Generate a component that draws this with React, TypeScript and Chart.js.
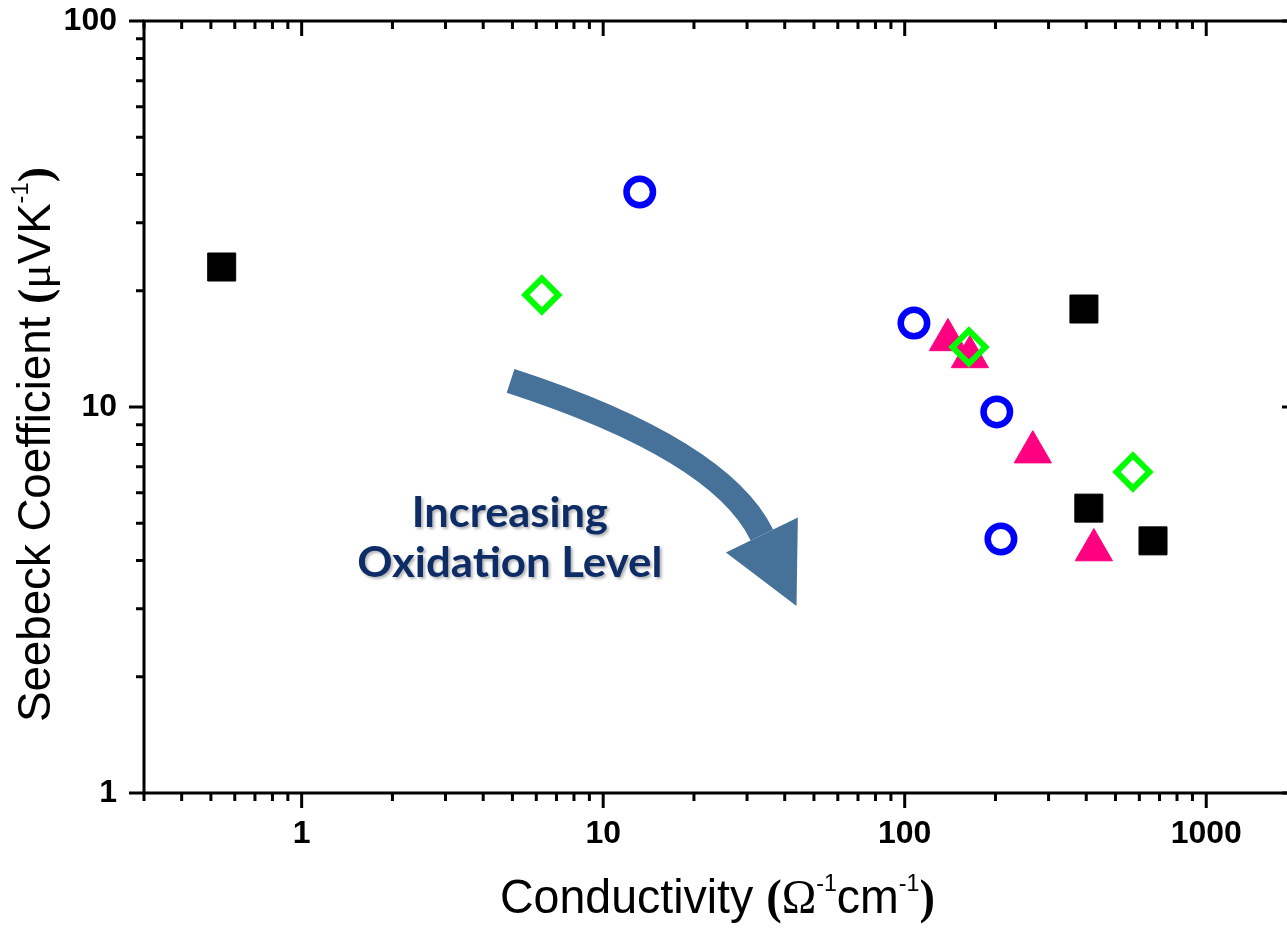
import React, { useEffect, useRef } from "react";
import { Chart, registerables } from "chart.js";

Chart.register(...registerables);

// ---- data: conductivity (S/cm) vs Seebeck coefficient (µV/K) ----
const squareX = [0.543, 393, 408, 666];
const squareY = [23.05, 17.94, 5.47, 4.5];

const circleX = [13.22, 107.3, 202, 208.5];
const circleY = [36.06, 16.5, 9.71, 4.55];

const triangleX = [139.1, 164.5, 266, 424];
const triangleY = [14.92, 13.48, 7.64, 4.26];

const diamondX = [6.26, 163.3, 571.5];
const diamondY = [19.51, 14.3, 6.79];

// ---- axes ----
const X_MIN = 0.3;
const X_MAX = 2000;
const Y_MIN = 1;
const Y_MAX = 100;
const xTickLabels = [1, 10, 100, 1000];
const yTickLabels = [1, 10, 100];

// ---- annotation (data space) ----
const arrowStart = { x: 4.93, y: 11.68 };
const arrowBend = { x: 24.4, y: 7.78 };
const arrowEnd = { x: 33.6, y: 4.66 };
const noteLines = ["Increasing", "Oxidation Level"];
const noteAnchor = { x: 4.9, y: [4.89, 3.63] };

const zip = (xs: number[], ys: number[]) => xs.map((x, i) => ({ x, y: ys[i] }));

const SANS = "'Liberation Sans', Arial, Helvetica, sans-serif";
const SERIF = "'Liberation Serif', 'Times New Roman', serif";

function logTicks(min: number, max: number) {
  const out: { v: number; major: boolean }[] = [];
  const e0 = Math.floor(Math.log10(min));
  const e1 = Math.ceil(Math.log10(max));
  for (let e = e0; e <= e1; e++) {
    for (let m = 1; m <= 9; m++) {
      const v = m * Math.pow(10, e);
      if (v >= min * (1 - 1e-9) && v <= max * (1 + 1e-9)) out.push({ v, major: m === 1 });
    }
  }
  return out;
}

type Seg = { text: string; font: string; dy?: number };

function drawRich(
  ctx: CanvasRenderingContext2D,
  segs: Seg[],
  ox: number,
  oy: number,
  length: number,
  vertical: boolean
) {
  ctx.save();
  ctx.translate(ox, oy);
  if (vertical) ctx.rotate(-Math.PI / 2);
  const widths = segs.map((s) => {
    ctx.font = s.font;
    return ctx.measureText(s.text).width;
  });
  const total = widths.reduce((a, b) => a + b, 0);
  ctx.scale(length / total, 1);
  ctx.fillStyle = "#000";
  ctx.textAlign = "left";
  ctx.textBaseline = "alphabetic";
  let x = -total / 2;
  segs.forEach((s, i) => {
    ctx.font = s.font;
    ctx.fillText(s.text, x, s.dy || 0);
    x += widths[i];
  });
  ctx.restore();
}

const framePlugin = {
  id: "frameAndNotes",
  afterDatasetsDraw(chart: any) {
    const { ctx, chartArea: a, scales } = chart;
    const xs = scales.x;
    const ys = scales.y;
    ctx.save();

    // axis box and tick marks
    ctx.strokeStyle = "#000";
    ctx.lineWidth = 3;
    ctx.lineCap = "butt";
    ctx.beginPath();
    ctx.rect(a.left, a.top, a.right - a.left, a.bottom - a.top);
    ctx.stroke();

    ctx.beginPath();
    logTicks(X_MIN, X_MAX).forEach(({ v, major }) => {
      const px = xs.getPixelForValue(v);
      const len = major ? 15 : 8;
      ctx.moveTo(px, a.bottom);
      ctx.lineTo(px, a.bottom + len);
      ctx.moveTo(px, a.top);
      ctx.lineTo(px, a.top + len);
    });
    logTicks(Y_MIN, Y_MAX).forEach(({ v, major }) => {
      const py = ys.getPixelForValue(v);
      const len = major ? 15 : 8;
      ctx.moveTo(a.left - len, py);
      ctx.lineTo(a.left, py);
      ctx.moveTo(a.right - len, py);
      ctx.lineTo(a.right, py);
    });
    ctx.stroke();

    // curved arrow
    const p0 = { x: xs.getPixelForValue(arrowStart.x), y: ys.getPixelForValue(arrowStart.y) };
    const pc = { x: xs.getPixelForValue(arrowBend.x), y: ys.getPixelForValue(arrowBend.y) };
    const p2 = { x: xs.getPixelForValue(arrowEnd.x), y: ys.getPixelForValue(arrowEnd.y) };
    const arrowColor = "#46729A";
    ctx.strokeStyle = arrowColor;
    ctx.fillStyle = arrowColor;
    ctx.lineWidth = 25;
    ctx.beginPath();
    ctx.moveTo(p0.x, p0.y);
    ctx.quadraticCurveTo(pc.x, pc.y, p2.x, p2.y);
    ctx.stroke();
    const dx = p2.x - pc.x;
    const dy = p2.y - pc.y;
    const dl = Math.hypot(dx, dy);
    const ux = dx / dl;
    const uy = dy / dl;
    const headLen = 79;
    const headHalf = 40;
    ctx.beginPath();
    ctx.moveTo(p2.x + uy * headHalf, p2.y - ux * headHalf);
    ctx.lineTo(p2.x + ux * headLen, p2.y + uy * headLen);
    ctx.lineTo(p2.x - uy * headHalf, p2.y + ux * headHalf);
    ctx.closePath();
    ctx.fill();

    // note text
    ctx.fillStyle = "#0E2C66";
    ctx.shadowColor = "rgba(0,0,0,0.30)";
    ctx.shadowOffsetX = 2;
    ctx.shadowOffsetY = 2;
    ctx.shadowBlur = 3;
    ctx.textAlign = "center";
    ctx.textBaseline = "alphabetic";
    const noteWidths = [196, 305];
    noteLines.forEach((line, i) => {
      const cx = xs.getPixelForValue(noteAnchor.x);
      const by = ys.getPixelForValue(noteAnchor.y[i]);
      ctx.font = "bold 42px Lato, 'Open Sans', sans-serif";
      const w = ctx.measureText(line).width;
      ctx.save();
      ctx.translate(cx, by);
      ctx.scale(noteWidths[i] / w, 1);
      ctx.fillText(line, 0, 0);
      ctx.restore();
    });
    ctx.restore();

    // axis titles
    const supFont = `24px ${SANS}`;
    drawRich(
      ctx,
      [
        { text: "Conductivity ", font: `48px ${SANS}` },
        { text: "(", font: `bold 48px ${SERIF}` },
        { text: "Ω", font: `48px ${SERIF}` },
        { text: "-1", font: supFont, dy: -22 },
        { text: "cm", font: `48px ${SANS}` },
        { text: "-1", font: supFont, dy: -22 },
        { text: ")", font: `bold 48px ${SERIF}` },
      ],
      a.left + 573.5,
      a.bottom + 120,
      435,
      false
    );
    drawRich(
      ctx,
      [
        { text: "Seebeck Coefficient ", font: `46px ${SANS}` },
        { text: "(", font: `bold 46px ${SERIF}` },
        { text: "μ", font: `46px ${SERIF}` },
        { text: "VK", font: `46px ${SANS}` },
        { text: "-1", font: supFont, dy: -22 },
        { text: ")", font: `bold 46px ${SERIF}` },
      ],
      50,
      a.top + 423.5,
      555,
      true
    );
  },
};

export default function App() {
  const canvasRef = useRef<HTMLCanvasElement | null>(null);

  useEffect(() => {
    const canvas = canvasRef.current;
    if (!canvas) return;
    const tickFont = { family: SANS, size: 32, weight: "bold" as const };
    const chart = new Chart(canvas, {
      type: "scatter",
      data: {
        datasets: [
          {
            label: "diamond",
            data: zip(diamondX, diamondY),
            pointStyle: "rectRot",
            pointRadius: 16.5,
            pointBorderWidth: 6,
            borderColor: "#00FF00",
            backgroundColor: "rgba(0,0,0,0)",
            order: 0,
          },
          {
            label: "triangle",
            data: zip(triangleX, triangleY),
            pointStyle: "triangle",
            pointRadius: 21.5,
            pointBorderWidth: 1,
            borderColor: "#FF0080",
            backgroundColor: "#FF0080",
            order: 1,
          },
          {
            label: "circle",
            data: zip(circleX, circleY),
            pointStyle: "circle",
            pointRadius: 13.25,
            pointBorderWidth: 6.5,
            borderColor: "#0000FF",
            backgroundColor: "rgba(0,0,0,0)",
            order: 2,
          },
          {
            label: "square",
            data: zip(squareX, squareY),
            pointStyle: "rect",
            pointRadius: 19.8,
            pointBorderWidth: 1,
            borderColor: "#000000",
            backgroundColor: "#000000",
            order: 3,
          },
        ],
      },
      options: {
        animation: false,
        responsive: false,
        devicePixelRatio: 1,
        layout: { autoPadding: false, padding: { left: 0, top: 21, right: 13, bottom: 0 } },
        plugins: {
          legend: { display: false },
          tooltip: { enabled: false },
        },
        scales: {
          x: {
            type: "logarithmic",
            position: "bottom",
            min: X_MIN,
            max: X_MAX,
            // tick marks are drawn by the frame plugin; the library's own
            // (invisible) ticks only set the label offset
            grid: {
              display: true,
              drawOnChartArea: false,
              drawTicks: true,
              tickLength: 22,
              tickColor: "rgba(0,0,0,0)",
            },
            border: { display: false },
            afterBuildTicks: (s: any) => {
              s.ticks = xTickLabels.map((v) => ({ value: v }));
            },
            afterFit: (s: any) => {
              s.height = 139;
            },
            ticks: {
              autoSkip: false,
              maxRotation: 0,
              minRotation: 0,
              padding: 0,
              color: "#000",
              font: tickFont,
              callback: (v: any) => String(v),
            },
          },
          y: {
            type: "logarithmic",
            position: "left",
            min: Y_MIN,
            max: Y_MAX,
            grid: {
              display: true,
              drawOnChartArea: false,
              drawTicks: true,
              tickLength: 27,
              tickColor: "rgba(0,0,0,0)",
            },
            border: { display: false },
            afterBuildTicks: (s: any) => {
              s.ticks = yTickLabels.map((v) => ({ value: v }));
            },
            afterFit: (s: any) => {
              s.width = 144;
            },
            ticks: {
              autoSkip: false,
              padding: 0,
              color: "#000",
              font: tickFont,
              callback: (v: any) => String(v),
            },
          },
        },
      },
      plugins: [framePlugin],
    });
    return () => chart.destroy();
  }, []);

  return (
    <div
      style={{
        position: "fixed",
        left: 0,
        top: 0,
        width: 1287,
        height: 932,
        overflow: "hidden",
        background: "#fff",
      }}
    >
      <canvas ref={canvasRef} width={1310} height={932} style={{ display: "block" }} />
    </div>
  );
}
